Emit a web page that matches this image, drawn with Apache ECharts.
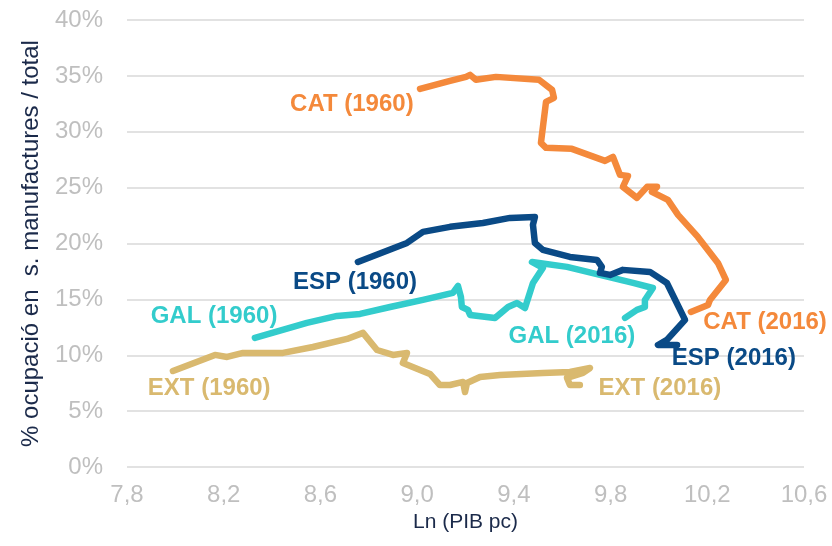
<!DOCTYPE html>
<html>
<head>
<meta charset="utf-8">
<script src="https://cdn.jsdelivr.net/npm/echarts@6/dist/echarts.min.js"></script>
<style>
  html, body { margin: 0; padding: 0; background: #fff; }
  #chart { width: 832px; height: 546px; }
</style>
</head>
<body>
<div id="chart"></div>
<script>
// Ln (PIB pc) vs % ocupació en manufactures, 1960 -> 2016
const catX = [9.012, 9.136, 9.202, 9.219, 9.243, 9.326, 9.504, 9.558, 9.566, 9.533, 9.512, 9.533, 9.640, 9.777, 9.810, 9.839, 9.872, 9.851, 9.909, 9.951, 9.992, 9.971, 10.037, 10.079, 10.161, 10.244, 10.277, 10.211, 10.203, 10.132];
const catY = [33.84, 34.56, 34.91, 35.09, 34.65, 34.91, 34.65, 33.75, 33.03, 32.68, 29.0, 28.56, 28.47, 27.39, 27.75, 26.14, 26.05, 25.07, 24.08, 25.07, 25.07, 24.62, 23.90, 22.56, 20.59, 18.26, 16.74, 14.95, 14.50, 13.88];

const espX = [8.755, 8.958, 9.024, 9.136, 9.272, 9.384, 9.487, 9.479, 9.487, 9.520, 9.632, 9.744, 9.764, 9.756, 9.798, 9.851, 9.963, 10.033, 10.108, 10.033, 9.996, 10.075];
const espY = [18.35, 20.05, 21.04, 21.49, 21.84, 22.29, 22.38, 21.67, 20.05, 19.43, 18.80, 18.53, 17.91, 17.37, 17.19, 17.64, 17.46, 16.47, 13.16, 11.37, 10.92, 10.92];

const galX = [8.329, 8.544, 8.669, 8.764, 8.888, 9.024, 9.148, 9.169, 9.181, 9.185, 9.210, 9.219, 9.322, 9.376, 9.413, 9.446, 9.479, 9.520, 9.475, 9.620, 9.756, 9.893, 9.975, 9.942, 9.942, 9.909, 9.860];
const galY = [11.55, 12.89, 13.52, 13.70, 14.32, 14.95, 15.58, 16.20, 15.22, 14.32, 14.06, 13.61, 13.34, 14.32, 14.68, 14.23, 16.47, 17.82, 18.35, 17.91, 17.19, 16.47, 16.02, 14.95, 14.32, 14.06, 13.34];

const extX = [7.990, 8.164, 8.214, 8.280, 8.445, 8.569, 8.710, 8.776, 8.834, 8.900, 8.958, 8.941, 9.053, 9.094, 9.136, 9.190, 9.198, 9.206, 9.260, 9.343, 9.520, 9.632, 9.715, 9.686, 9.620, 9.632, 9.673];
const extY = [8.59, 10.03, 9.85, 10.21, 10.21, 10.74, 11.46, 12.00, 10.47, 10.03, 10.21, 9.31, 8.33, 7.34, 7.34, 7.61, 6.71, 7.52, 8.06, 8.24, 8.42, 8.50, 8.86, 8.42, 7.97, 7.34, 7.34];

// text annotations [x, y, text, series]
const notes = [
  [8.730, 32.48, "CAT (1960)", "CAT"],
  [10.439, 12.98, "CAT (2016)", "CAT"],
  [8.743, 16.55, "ESP (1960)", "ESP"],
  [10.310, 9.75, "ESP (2016)", "ESP"],
  [8.160, 13.51, "GAL (1960)", "GAL"],
  [9.640, 11.72, "GAL (2016)", "GAL"],
  [8.140, 7.07, "EXT (1960)", "EXT"],
  [10.004, 7.07, "EXT (2016)", "EXT"]
];

const colors = {
  CAT: "#F4893B",
  ESP: "#0A4A86",
  GAL: "#33CCCC",
  EXT: "#D9B96F"
};

function pairs(xs, ys) {
  return xs.map((x, i) => [x, ys[i]]);
}

function lineSeries(name, xs, ys) {
  return {
    name: name,
    type: "line",
    data: pairs(xs, ys),
    showSymbol: false,
    symbol: "none",
    smooth: false,
    lineStyle: { width: 6.5, color: colors[name], cap: "round", join: "round" },
    z: 2
  };
}

const chart = echarts.init(document.getElementById("chart"));
chart.setOption({
  animation: false,
  backgroundColor: "#fff",
  grid: { left: 127, right: 28, top: 20, bottom: 79 },
  xAxis: {
    type: "value",
    min: 7.8,
    max: 10.6,
    interval: 0.4,
    name: "Ln (PIB pc)",
    nameLocation: "middle",
    nameGap: 45,
    nameTextStyle: { color: "#1B2A4A", fontSize: 21, fontFamily: "Liberation Sans" },
    axisLine: { show: false },
    axisTick: { show: false },
    splitLine: { show: false },
    axisLabel: {
      color: "#BFBFBF",
      fontSize: 24,
      fontFamily: "Liberation Sans",
      margin: 16,
      formatter: (v) => v.toFixed(1).replace(".", ",")
    }
  },
  yAxis: {
    type: "value",
    min: 0,
    max: 40,
    interval: 5,
    name: "% ocupació en  s. manufactures / total",
    nameLocation: "middle",
    nameGap: 84,
    nameTextStyle: { color: "#1B2A4A", fontSize: 24, fontFamily: "Liberation Sans" },
    axisLine: { show: false },
    axisTick: { show: false },
    splitLine: { lineStyle: { color: "#D9D9D9", width: 1.5 } },
    axisLabel: {
      color: "#BFBFBF",
      fontSize: 24,
      fontFamily: "Liberation Sans",
      margin: 24,
      formatter: (v) => v + "%"
    }
  },
  series: [
    lineSeries("EXT", extX, extY),
    lineSeries("GAL", galX, galY),
    lineSeries("ESP", espX, espY),
    lineSeries("CAT", catX, catY),
    {
      type: "scatter",
      symbolSize: 0,
      silent: true,
      z: 3,
      data: notes.map((n) => ({
        value: [n[0], n[1]],
        label: {
          show: true,
          position: "inside",
          formatter: n[2],
          color: colors[n[3]],
          opacity: 1,
          textBorderWidth: 0,
          fontSize: 24,
          fontWeight: "bold",
          fontFamily: "Liberation Sans"
        }
      }))
    }
  ]
});
</script>
</body>
</html>
